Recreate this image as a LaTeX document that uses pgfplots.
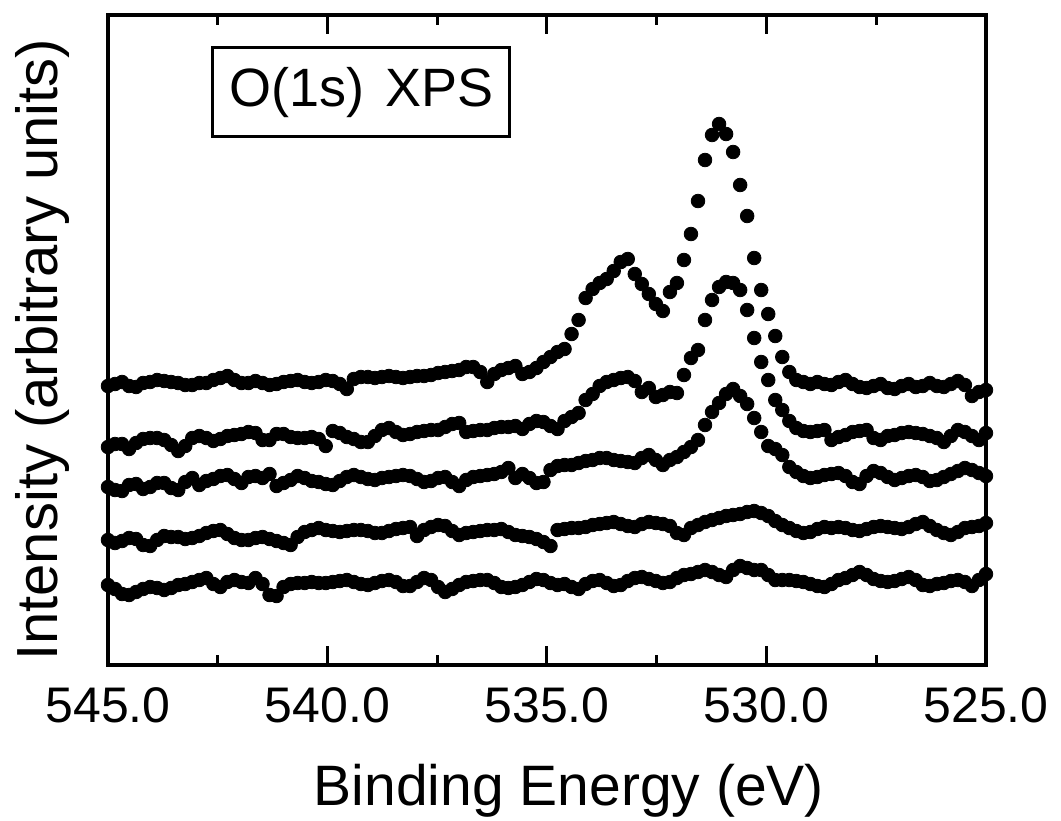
\documentclass[border=0pt]{standalone}
\usepackage{fontspec}
\setmainfont{Liberation Sans}
\usepackage{pgfplots}
\pgfplotsset{compat=1.18}
\usepackage{pgfplotstable}

\pgfplotstableread{
E s1 s2 s3 s4 s5
545.00 386 447 487 540 585
544.84 384 444 490 543 589
544.68 382 444 491 541 594
544.52 386 449 485 538 595
544.36 387 443 484 539 592
544.20 383 439 489 545 589
544.04 382 438 487 546 587
543.88 380 438 483 540 588
543.72 381 440 483 536 590
543.56 382 445 488 537 588
543.40 383 451 490 537 585
543.24 385 446 482 539 584
543.08 385 438 478 538 582
542.92 383 436 485 536 580
542.76 383 438 481 533 578
542.60 380 441 479 531 584
542.44 378 439 476 530 587
542.28 376 436 475 534 582
542.12 380 435 479 538 580
541.96 383 434 483 540 582
541.80 383 432 477 540 583
541.64 381 433 476 538 578
541.48 383 440 478 537 584
541.32 385 440 474 539 595
541.16 384 434 486 541 596
541.00 382 434 483 543 587
540.84 381 437 480 545 584
540.68 380 438 476 537 583
540.52 382 438 478 532 583
540.36 383 437 481 530 582
540.20 382 439 482 528 583
540.04 380 446 484 530 583
539.88 381 431 485 531 582
539.72 384 433 481 532 581
539.56 389 437 477 531 580
539.40 379 439 475 530 582
539.24 377 442 477 530 584
539.08 377 442 479 531 585
538.92 378 436 480 533 583
538.76 377 430 478 533 581
538.60 376 428 477 531 580
538.44 377 432 476 529 582
538.28 378 435 475 528 586
538.12 377 434 476 527 586
537.96 376 432 479 536 582
537.80 376 431 482 530 578
537.64 375 430 481 527 580
537.48 373 430 478 525 587
537.32 372 427 477 526 592
537.16 371 424 482 531 589
537.00 370 423 486 535 585
536.84 367 432 480 533 582
536.68 367 431 477 532 581
536.52 372 430 476 531 580
536.36 382 430 475 530 580
536.20 374 428 474 530 583
536.04 370 427 472 529 587
535.88 368 427 468 532 588
535.72 366 426 478 535 587
535.56 374 429 474 536 585
535.40 372 424 478 537 582
535.24 368 421 483 539 579
535.08 362 422 482 542 580
534.92 357 426 470 546 583
534.76 352 429 466 530 585
534.60 349 421 465 529 584
534.44 334 417 465 528 587
534.28 320 413 463 528 589
534.12 298 400 461 527 584
533.96 289 394 460 525 581
533.80 283 386 458 524 580
533.64 279 382 458 523 583
533.48 271 380 460 522 586
533.32 262 378 461 524 585
533.16 259 377 462 526 581
533.00 274 381 463 527 578
532.84 284 392 458 524 577
532.68 294 388 455 522 579
532.52 304 397 460 523 581
532.36 311 395 465 524 583
532.20 292 392 460 526 582
532.04 283 393 457 533 578
531.88 260 375 452 535 575
531.72 234 358 447 528 574
531.56 201 350 440 525 572
531.40 160 320 425 522 570
531.24 135 300 412 520 572
531.08 124 287 403 518 575
530.92 134 282 394 516 577
530.76 152 283 389 515 570
530.60 185 290 396 514 566
530.44 216 310 404 512 568
530.28 258 338 418 511 570
530.12 290 362 432 513 570
529.96 314 380 446 516 575
529.80 336 400 449 521 580
529.64 357 410 455 525 580
529.48 372 421 467 528 580
529.32 380 428 472 531 581
529.16 382 431 476 533 582
529.00 384 432 478 532 584
528.84 382 431 477 529 586
528.68 384 430 475 527 587
528.52 385 440 474 528 584
528.36 382 437 473 527 580
528.20 380 435 476 528 578
528.04 384 432 482 530 575
527.88 387 431 484 531 572
527.72 388 430 476 529 575
527.56 386 438 471 527 579
527.40 384 440 473 526 581
527.24 388 436 477 527 582
527.08 389 435 480 528 581
526.92 386 433 478 529 579
526.76 384 432 476 527 577
526.60 387 433 475 524 580
526.44 386 434 477 522 585
526.28 383 436 481 526 586
526.12 386 438 480 530 584
525.96 387 442 477 533 583
525.80 384 436 474 535 581
525.64 381 430 471 532 580
525.48 385 432 468 528 582
525.32 396 436 470 527 586
525.16 392 440 473 526 580
525.00 390 433 476 523 574
}\xps

\begin{document}
\begin{tikzpicture}
\begin{axis}[
  scale only axis, width=439pt, height=325pt,
  xmin=525, xmax=545, x dir=reverse,
  ymin=15, ymax=665, y dir=reverse,
  ytick=\empty,
  xtick={525,530,535,540,545},
  minor x tick num=1,
  tick align=inside,
  major tick length=9.5pt, minor tick length=5pt,
  every tick/.style={line width=1.5pt, black},
  axis line style={line width=1.8pt},
  xticklabel style={font=\fontsize{25}{30}\selectfont, anchor=base, yshift=-28.5pt},
  /pgf/number format/.cd, fixed, fixed zerofill, precision=1, assume math mode=true, /pgfplots/.cd,
  xlabel={Binding Energy (eV)},
  xlabel style={font=\fontsize{28.5}{34}\selectfont, at={(axis description cs:0.525,0)}, anchor=base, yshift=-70pt},
  ylabel={Intensity (arbitrary units)},
  ylabel style={font=\fontsize{29}{35}\selectfont, at={(axis description cs:-0.057,0.485)}, anchor=base},
  clip=false,
]
\addplot[only marks, mark=*, mark size=3.4pt, black] table[x=E, y=s1] {\xps};
\addplot[only marks, mark=*, mark size=3.4pt, black] table[x=E, y=s2] {\xps};
\addplot[only marks, mark=*, mark size=3.4pt, black] table[x=E, y=s3] {\xps};
\addplot[only marks, mark=*, mark size=3.4pt, black] table[x=E, y=s4] {\xps};
\addplot[only marks, mark=*, mark size=3.4pt, black] table[x=E, y=s5] {\xps};
\node[draw, line width=1.5pt, minimum width=148.5pt, minimum height=44.5pt, inner sep=0pt, font=\fontsize{27}{32}\selectfont, fill=white] at (axis description cs:0.2887,0.8808) {O(1s)\hspace{0.4em}XPS};
\end{axis}
\pgfresetboundingbox
\path ([xshift=-54pt,yshift=-77.5pt]current axis.south west) rectangle ([xshift=37.5pt,yshift=7.5pt]current axis.north east);
\end{tikzpicture}
\end{document}
